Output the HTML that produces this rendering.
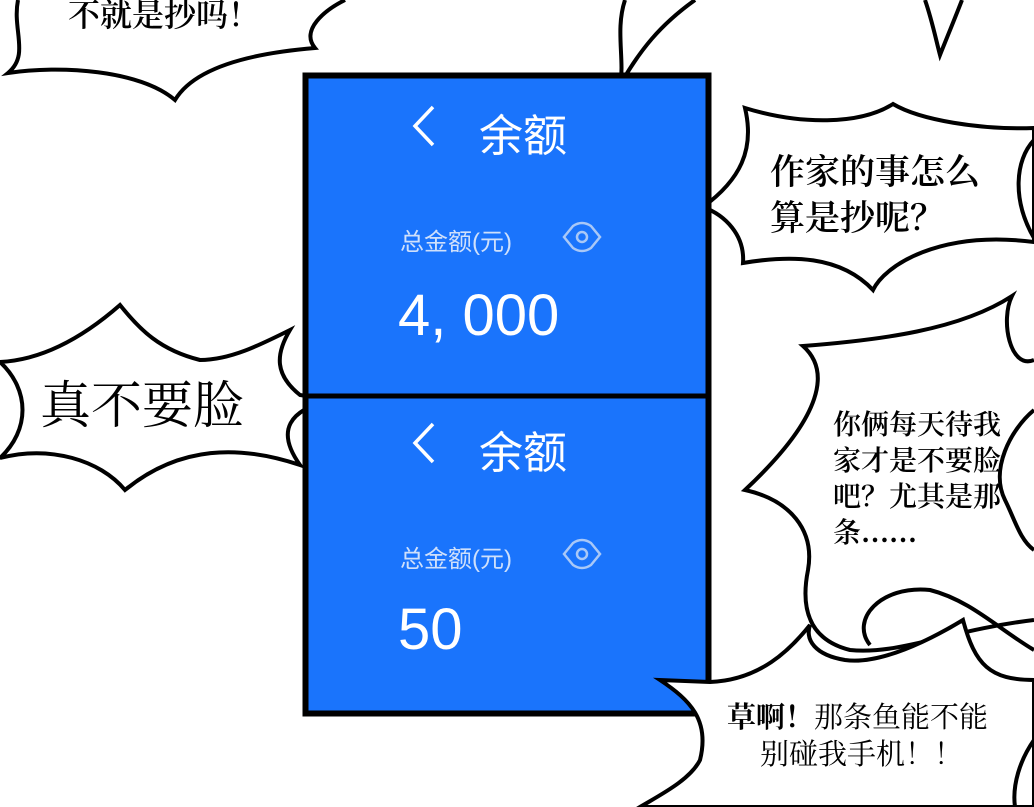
<!DOCTYPE html>
<html><head><meta charset="utf-8"><style>
html,body{margin:0;padding:0;background:#fff;}
body{width:1034px;height:807px;overflow:hidden;position:relative;font-family:"Liberation Serif","Noto Serif CJK SC",serif;}
.t{position:absolute;color:#000;white-space:nowrap;font-weight:600;}
.s{font-family:"Liberation Sans","Noto Sans CJK SC",sans-serif;color:#fff;position:absolute;white-space:nowrap;}
</style></head><body>
<svg width="1034" height="807" style="position:absolute;left:0;top:0" fill="#fff" stroke="#000" stroke-width="4" stroke-linejoin="miter">
<path d="M18,0 C12,30 30,55 8,73 C60,65 140,70 175,100 C190,75 230,55 315,48 C300,30 325,10 345,0"/>
<path d="M625,0 C615,30 625,60 620,85 C640,50 660,25 695,0"/>
<path d="M925,0 C932,20 936,40 940,55 C948,35 955,18 962,0"/>
<path d="M1034,128 C980,130 920,120 893,104 C860,125 800,125 745,108 C755,150 740,180 703,207 C725,215 745,235 743,263 C790,255 840,255 873,290 C885,265 940,230 1034,242 Z"/>
<path d="M1034,140 C1015,160 1012,200 1034,238" fill="none"/>
<path d="M0,362 C40,360 80,340 120,305 C140,330 160,350 200,360 C230,360 260,345 290,330 C275,355 275,375 300,395 L330,400 C290,410 275,430 300,465 C240,445 180,445 125,490 C100,460 50,445 0,458 C30,430 30,390 0,362 Z"/>
<path d="M1034,360 C1010,370 1000,320 1012,296 C960,330 880,340 803,346 C830,370 825,415 745,490 C790,500 815,530 808,570 C800,610 810,640 850,650 C900,655 950,630 1034,620"/>
<path d="M1034,410 C1010,430 990,470 1005,500 C1015,520 1020,540 1034,550" fill="none"/>
<path d="M1034,650 C1000,630 970,600 930,590 C880,585 850,620 870,645" fill="none"/>
<rect x="305.5" y="75.5" width="403" height="638" fill="#1a74fc" stroke="#000" stroke-width="6"/>
<line x1="305" y1="396" x2="709" y2="396" stroke="#000" stroke-width="5"/>
<path d="M1034,680 C990,680 975,665 963,620 C930,640 880,665 845,660 C815,655 805,640 810,625 C790,650 760,680 710,682 L660,680 C690,700 710,720 700,760 C690,780 660,795 640,807 L1034,807 Z"/>
<path d="M1034,740 C1020,760 1012,785 1015,807" fill="none"/>
<g fill="none" stroke="#a9c8f7" stroke-width="2.5">
<path d="M564,237 L573,226 Q582,220 591,226 L600,237 L591,248 Q582,254 573,248 Z"/><circle cx="582" cy="237" r="5"/>
<path d="M564,554 L573,543 Q582,537 591,543 L600,554 L591,565 Q582,571 573,565 Z"/><circle cx="582" cy="554" r="5"/>
</g>
<g fill="none" stroke="#fff" stroke-width="3.5">
<path d="M433,107 L415,126 L433,145"/><path d="M433,424 L415,443 L433,462"/>
</g>
</svg>
<div class="t" style="left:68px;top:-10px;font-size:32px;">不就是抄吗！</div>
<div class="t" style="left:770px;top:150px;font-size:35px;line-height:46px;">作家的事怎么<br>算是抄呢？</div>
<div class="t" style="left:40px;top:364px;font-size:51px;font-weight:400;">真不要脸</div>
<div class="t" style="left:833px;top:408px;font-size:28px;line-height:36px;">你俩每天待我<br>家才是不要脸<br>吧？尤其是那<br>条……</div>
<div class="t" style="left:727px;top:700px;font-size:29px;line-height:37px;font-weight:400;"><b>草啊！</b>那条鱼能不能<br><span style="margin-left:33px">别碰我手机！！</span></div>
<div class="s" style="left:479px;top:100px;font-size:44px;">余额</div>
<div class="s" style="left:400px;top:222px;font-size:24px;color:#cfe0fb;">总金额(元)</div>
<div class="s" style="left:398px;top:282px;font-size:58px;">4, 000</div>
<div class="s" style="left:479px;top:417px;font-size:44px;">余额</div>
<div class="s" style="left:400px;top:539px;font-size:24px;color:#cfe0fb;">总金额(元)</div>
<div class="s" style="left:398px;top:596px;font-size:58px;">50</div>
</body></html>
